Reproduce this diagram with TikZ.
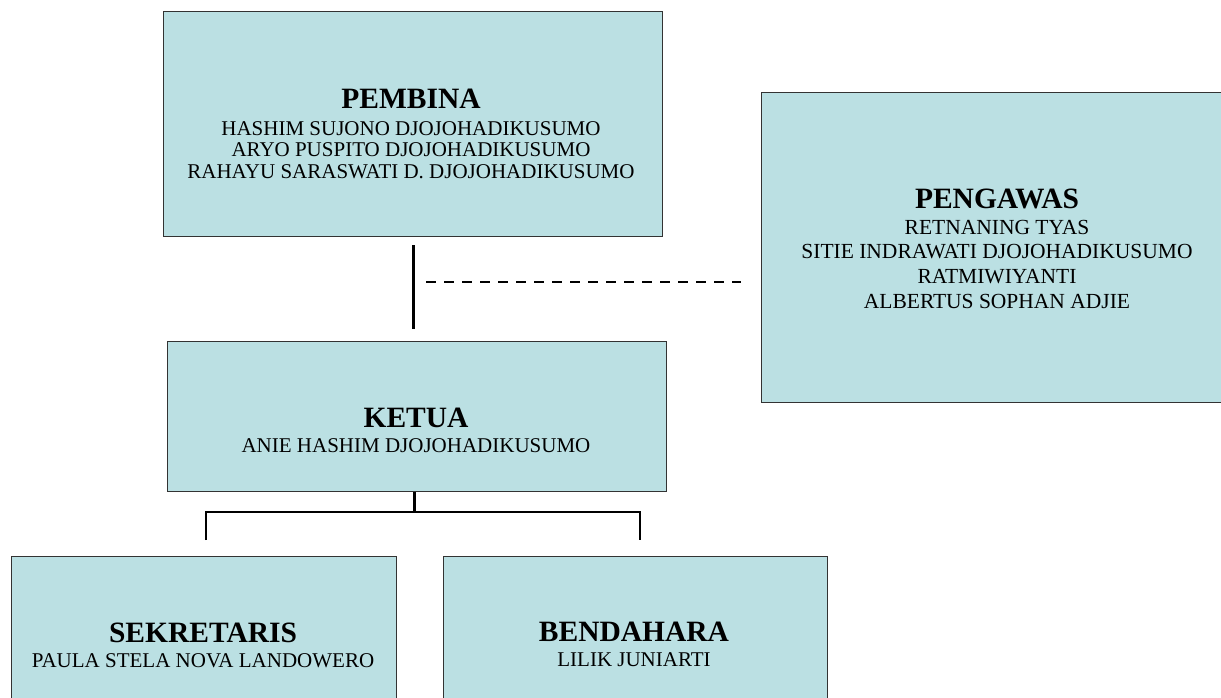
\documentclass[tikz,border=0pt]{standalone}
\usepackage{fontspec}
\setmainfont{Liberation Serif}
\definecolor{boxfill}{HTML}{BBE0E3}
\definecolor{boxline}{HTML}{333333}
\newcommand{\ttlfont}{\fontsize{29.5}{29.5}\selectfont\bfseries}
\begin{document}
\begin{tikzpicture}[x=1pt,y=-1pt,
  orgbox/.style={draw=boxline, line width=1pt, fill=boxfill, rectangle, inner sep=0pt},
  txt/.style={align=center, inner sep=0pt, anchor=base},
  conn/.style={line width=2.6pt, black},
  dconn/.style={line width=2.6pt, black, dash pattern=on 10pt off 8pt}]
\useasboundingbox (0,0) rectangle (1221,697);
\clip (0,0) rectangle (1221,697);
% boxes
\node[orgbox, minimum width=499pt, minimum height=225pt] (pembina) at (412.5,124) {};
\node[orgbox, minimum width=470pt, minimum height=310pt] (pengawas) at (996,247) {};
\node[orgbox, minimum width=499pt, minimum height=150pt] (ketua) at (416.5,416) {};
\node[orgbox, minimum width=385pt, minimum height=200pt] (sekr) at (203.5,656) {};
\node[orgbox, minimum width=384pt, minimum height=200pt] (bend) at (635,656) {};
% texts (anchored at the baseline of their last line)
\node[txt, font=\fontsize{21}{21.5}\selectfont] (pembinaT) at (411,178) {{\ttlfont PEMBINA}\\[5pt]HASHIM SUJONO DJOJOHADIKUSUMO\\ARYO PUSPITO DJOJOHADIKUSUMO\\RAHAYU SARASWATI D. DJOJOHADIKUSUMO};
\node[txt, font=\fontsize{21.5}{24.7}\selectfont] (pengawasT) at (997,308.3) {{\ttlfont PENGAWAS}\\[1pt]RETNANING TYAS\\SITIE INDRAWATI DJOJOHADIKUSUMO\\RATMIWIYANTI\\ALBERTUS SOPHAN ADJIE};
\node[txt, font=\fontsize{21}{25}\selectfont] (ketuaT) at (416,452) {{\ttlfont KETUA}\\ANIE HASHIM DJOJOHADIKUSUMO};
\node[txt, font=\fontsize{21}{25}\selectfont] (sekrT) at (203,667) {{\ttlfont SEKRETARIS}\\PAULA STELA NOVA LANDOWERO};
\node[txt, font=\fontsize{21}{25}\selectfont] (bendT) at (634,666.5) {{\ttlfont BENDAHARA}\\LILIK JUNIARTI};
% connectors
\coordinate (vtop) at (413.5,245);
\coordinate (vbot) at (413.5,329);
\draw[conn] (vtop) -- (vbot);
\coordinate (d1) at (426,282);
\coordinate (d2) at (741,282);
\draw[dconn] (d1) -- (d2);
\coordinate (jn) at (414.5,512);
\coordinate (ls) at (206,540);
\coordinate (rs) at (640,540);
\draw[conn] (ketua.south -| jn) -- (jn);
\draw[conn] (ls) |- (jn) -| (rs);
\end{tikzpicture}
\end{document}
